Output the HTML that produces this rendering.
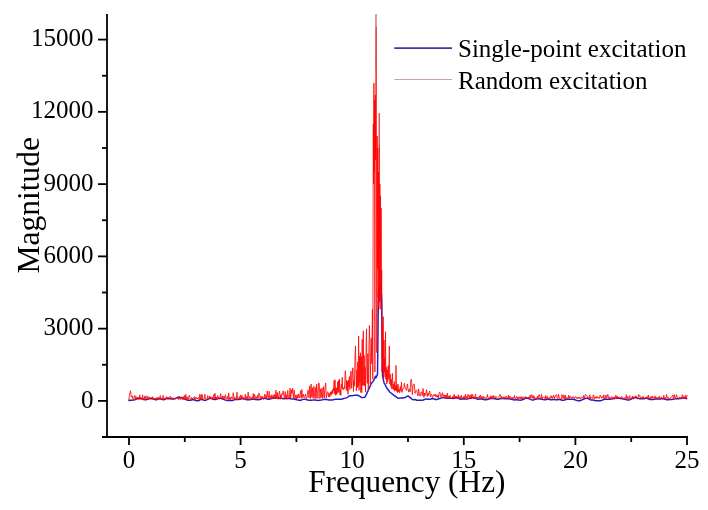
<!DOCTYPE html>
<html><head><meta charset="utf-8"><style>
html,body{margin:0;padding:0;background:#fff;}
svg{display:block;will-change:transform;}
text{font-family:"Liberation Serif",serif;fill:#000;}
</style></head><body>
<svg width="708" height="510" viewBox="0 0 708 510">
<rect width="708" height="510" fill="#fff"/>
<defs><clipPath id="c1"><rect x="360" y="0" width="40" height="70"/></clipPath><clipPath id="c2"><rect x="360" y="0" width="40" height="27"/></clipPath><clipPath id="c3"><rect x="378.9" y="100" width="1.2" height="45"/></clipPath></defs>
<path d="M128.60 400.78 L129.70 400.25 L130.80 400.30 L131.90 400.22 L133.00 400.09 L134.10 399.92 L135.20 399.60 L136.30 399.10 L137.40 398.58 L138.50 398.25 L139.60 398.13 L140.70 398.18 L141.80 398.47 L142.90 398.99 L144.00 399.53 L145.10 399.78 L146.20 399.66 L147.30 399.35 L148.40 398.98 L149.50 398.64 L150.60 398.40 L151.70 398.36 L152.80 398.63 L153.90 399.16 L155.00 399.64 L156.10 399.74 L157.20 399.45 L158.30 399.05 L159.40 398.79 L160.50 398.84 L161.60 399.20 L162.70 399.61 L163.80 399.70 L164.90 399.33 L166.00 398.78 L167.10 398.40 L168.20 398.30 L169.30 398.42 L170.40 398.64 L171.50 398.84 L172.60 398.93 L173.70 398.88 L174.80 398.64 L175.90 398.19 L177.00 397.62 L178.10 397.20 L179.20 397.11 L180.30 397.37 L181.40 397.80 L182.50 398.24 L183.60 398.66 L184.70 399.12 L185.80 399.57 L186.90 399.92 L188.00 400.15 L189.10 400.28 L190.20 400.27 L191.30 400.05 L192.40 399.75 L193.50 399.64 L194.60 399.93 L195.70 400.52 L196.80 400.78 L197.90 400.78 L199.00 400.51 L200.10 399.76 L201.20 399.39 L202.30 399.58 L203.40 400.06 L204.50 400.41 L205.60 400.36 L206.70 399.88 L207.80 399.17 L208.90 398.53 L210.00 398.25 L211.10 398.39 L212.20 398.84 L213.30 399.32 L214.40 399.58 L215.50 399.48 L216.60 399.08 L217.70 398.60 L218.80 398.25 L219.90 398.13 L221.00 398.24 L222.10 398.57 L223.20 399.09 L224.30 399.66 L225.40 400.12 L226.50 400.35 L227.60 400.38 L228.70 400.36 L229.80 400.42 L230.90 400.55 L232.00 400.54 L233.10 400.28 L234.20 399.88 L235.30 399.55 L236.40 399.41 L237.50 399.41 L238.60 399.40 L239.70 399.24 L240.80 398.92 L241.90 398.62 L243.00 398.57 L244.10 398.82 L245.20 399.24 L246.30 399.64 L247.40 399.86 L248.50 399.85 L249.60 399.65 L250.70 399.40 L251.80 399.23 L252.90 399.22 L254.00 399.31 L255.10 399.44 L256.20 399.58 L257.30 399.68 L258.40 399.71 L259.50 399.56 L260.60 399.19 L261.70 398.73 L262.80 398.38 L263.90 398.25 L265.00 398.36 L266.10 398.66 L267.20 399.03 L268.30 399.25 L269.40 399.19 L270.50 398.89 L271.60 398.52 L272.70 398.23 L273.80 398.03 L274.90 397.91 L276.00 397.86 L277.10 397.87 L278.20 397.88 L279.30 397.89 L280.40 397.99 L281.50 398.23 L282.60 398.52 L283.70 398.71 L284.80 398.73 L285.90 398.61 L287.00 398.47 L288.10 398.42 L289.20 398.51 L290.30 398.68 L291.40 398.84 L292.50 398.95 L293.60 399.06 L294.70 399.24 L295.80 399.52 L296.90 399.84 L298.00 400.12 L299.10 400.22 L300.20 400.42 L301.30 400.07 L302.40 399.65 L303.50 399.35 L304.60 399.30 L305.70 399.47 L306.80 399.73 L307.90 399.99 L309.00 400.19 L310.10 400.30 L311.20 400.28 L312.30 400.13 L313.40 399.95 L314.50 399.90 L315.60 400.05 L316.70 400.28 L317.80 400.40 L318.90 400.35 L320.00 400.23 L321.10 400.09 L322.20 399.88 L323.30 399.61 L324.40 399.40 L325.50 399.35 L326.60 399.46 L327.70 399.66 L328.80 399.90 L329.90 400.11 L331.00 400.11 L332.10 399.94 L333.20 399.70 L334.30 399.50 L335.40 399.37 L336.50 399.30 L337.60 399.26 L338.70 399.28 L339.80 399.34 L340.90 399.27 L342.00 399.04 L343.10 398.71 L344.20 398.39 L345.30 398.11 L346.40 397.86 L347.50 397.31 L348.60 396.48 L349.70 395.78 L350.80 395.71 L351.90 395.73 L353.00 395.60 L354.10 395.37 L355.20 395.16 L356.30 395.24 L357.40 395.26 L358.50 395.54 L359.60 396.18 L360.70 396.87 L361.80 397.62 L362.90 397.49 L364.00 397.29 L365.10 397.00 L366.20 394.71 L367.30 392.37 L368.40 389.99 L369.50 387.59 L370.00 386.47 L370.30 385.74 L370.60 385.00 L370.90 384.23 L371.20 383.67 L371.50 383.24 L371.80 382.81 L372.10 382.38 L372.40 381.99 L372.70 381.64 L373.00 381.31 L373.30 380.92 L373.60 380.47 L373.90 379.99 L374.20 379.43 L374.50 378.76 L374.80 377.98 L375.10 377.18 L375.40 376.53 L375.70 376.13 L376.00 377.78 L376.30 377.10 L376.60 376.43 L376.90 375.75 L377.20 375.08 L377.50 374.40 L377.80 349.11 L378.10 319.01 L378.40 295.64 L378.70 290.58 L379.00 288.50 L379.30 287.89 L379.60 287.29 L379.90 286.69 L380.20 286.89 L380.50 287.49 L380.80 288.09 L381.10 288.70 L381.40 293.23 L381.70 299.74 L382.00 330.45 L382.30 358.15 L382.60 376.07 L382.90 377.47 L383.20 378.87 L383.50 380.27 L383.80 381.66 L384.10 382.79 L384.40 383.36 L384.70 383.94 L385.00 384.52 L385.30 385.10 L385.60 385.68 L385.90 386.26 L386.20 386.83 L386.50 387.41 L386.80 387.99 L387.10 388.50 L387.40 388.89 L387.70 389.27 L388.00 389.66 L388.30 390.04 L388.60 390.43 L388.90 390.82 L389.20 391.20 L389.50 391.59 L389.80 391.97 L390.10 392.31 L390.40 392.54 L390.70 392.78 L391.00 393.01 L391.30 393.25 L391.60 393.48 L391.90 393.72 L392.50 394.19 L393.60 395.05 L394.70 395.87 L395.80 396.66 L396.90 397.46 L398.00 398.25 L399.10 398.18 L400.20 398.12 L401.30 398.05 L402.40 397.96 L403.50 397.80 L404.60 397.65 L405.70 397.20 L406.80 396.57 L407.90 395.95 L409.00 396.69 L410.10 397.57 L411.20 398.45 L412.30 399.33 L413.40 399.83 L414.50 399.67 L415.60 399.51 L416.70 400.28 L417.80 400.30 L418.90 400.22 L420.00 400.17 L421.10 400.20 L422.20 400.18 L423.30 399.94 L424.40 399.49 L425.50 399.09 L426.60 398.99 L427.70 399.15 L428.80 399.31 L429.90 399.23 L431.00 398.92 L432.10 398.66 L433.20 398.72 L434.30 399.08 L435.40 399.45 L436.50 399.54 L437.60 399.30 L438.70 398.88 L439.80 398.45 L440.90 398.10 L442.00 397.86 L443.10 397.75 L444.20 397.77 L445.30 397.91 L446.40 398.13 L447.50 398.28 L448.60 398.27 L449.70 398.17 L450.80 398.17 L451.90 398.33 L453.00 398.45 L454.10 398.28 L455.20 397.90 L456.30 397.67 L457.40 397.86 L458.50 398.37 L459.60 398.90 L460.70 399.17 L461.80 399.12 L462.90 398.92 L464.00 398.84 L465.10 398.99 L466.20 399.13 L467.30 398.98 L468.40 398.58 L469.50 398.18 L470.60 397.90 L471.70 397.66 L472.80 397.45 L473.90 397.51 L475.00 397.98 L476.10 398.65 L477.20 399.13 L478.30 399.24 L479.40 399.11 L480.50 398.96 L481.60 398.97 L482.70 399.19 L483.80 399.53 L484.90 399.79 L486.00 399.82 L487.10 399.58 L488.20 399.18 L489.30 398.77 L490.40 398.47 L491.50 398.37 L492.60 398.42 L493.70 398.57 L494.80 398.79 L495.90 399.05 L497.00 399.23 L498.10 399.25 L499.20 399.08 L500.30 398.82 L501.40 398.60 L502.50 398.53 L503.60 398.58 L504.70 398.67 L505.80 398.72 L506.90 398.74 L508.00 398.74 L509.10 398.77 L510.20 398.92 L511.30 399.20 L512.40 399.56 L513.50 399.82 L514.60 399.89 L515.70 399.81 L516.80 399.77 L517.90 399.89 L519.00 400.09 L520.10 400.16 L521.20 400.03 L522.30 399.73 L523.40 399.30 L524.50 398.79 L525.60 398.38 L526.70 398.23 L527.80 398.35 L528.90 398.67 L530.00 399.12 L531.10 399.62 L532.20 399.99 L533.30 400.00 L534.40 399.63 L535.50 399.17 L536.60 398.89 L537.70 398.83 L538.80 398.85 L539.90 398.89 L541.00 399.00 L542.10 399.21 L543.20 399.51 L544.30 399.74 L545.40 399.75 L546.50 399.55 L547.60 399.34 L548.70 399.35 L549.80 399.55 L550.90 399.72 L552.00 399.71 L553.10 399.61 L554.20 399.58 L555.30 399.64 L556.40 399.70 L557.50 399.66 L558.60 399.56 L559.70 399.58 L560.80 399.83 L561.90 400.17 L563.00 400.31 L564.10 400.15 L565.20 399.82 L566.30 399.53 L567.40 399.36 L568.50 399.25 L569.60 399.17 L570.70 399.16 L571.80 399.21 L572.90 399.32 L574.00 399.51 L575.10 399.81 L576.20 400.17 L577.30 400.47 L578.40 400.65 L579.50 400.67 L580.60 400.46 L581.70 400.00 L582.80 399.45 L583.90 398.95 L585.00 398.51 L586.10 398.21 L587.20 398.23 L588.30 398.63 L589.40 399.25 L590.50 399.77 L591.60 400.01 L592.70 400.07 L593.80 400.19 L594.90 400.50 L596.00 400.78 L597.10 400.78 L598.20 400.78 L599.30 400.78 L600.40 400.72 L601.50 400.37 L602.60 400.00 L603.70 399.63 L604.80 399.34 L605.90 399.16 L607.00 399.13 L608.10 399.19 L609.20 399.22 L610.30 399.18 L611.40 399.09 L612.50 398.88 L613.60 398.50 L614.70 398.11 L615.80 397.96 L616.90 398.10 L618.00 398.28 L619.10 398.34 L620.20 398.34 L621.30 398.44 L622.40 398.67 L623.50 398.96 L624.60 399.25 L625.70 399.55 L626.80 399.81 L627.90 399.96 L629.00 399.93 L630.10 399.62 L631.20 399.01 L632.30 398.26 L633.40 397.66 L634.50 397.38 L635.60 397.42 L636.70 397.71 L637.80 398.10 L638.90 398.44 L640.00 398.65 L641.10 398.78 L642.20 398.85 L643.30 398.78 L644.40 398.58 L645.50 398.36 L646.60 398.32 L647.70 398.58 L648.80 399.06 L649.90 399.46 L651.00 399.61 L652.10 399.54 L653.20 399.40 L654.30 399.24 L655.40 399.10 L656.50 399.02 L657.60 398.99 L658.70 398.98 L659.80 398.93 L660.90 398.83 L662.00 398.72 L663.10 398.71 L664.20 398.92 L665.30 399.29 L666.40 399.64 L667.50 399.79 L668.60 399.69 L669.70 399.50 L670.80 399.39 L671.90 399.38 L673.00 399.32 L674.10 399.12 L675.20 398.88 L676.30 398.74 L677.40 398.71 L678.50 398.68 L679.60 398.59 L680.70 398.43 L681.80 398.20 L682.90 397.96 L684.00 397.87 L685.10 398.04 L686.20 398.44 L687.30 398.86" fill="none" stroke="#2020c0" stroke-width="1.5" stroke-linejoin="round"/>
<g stroke="#ff0000"><path id="redp" d="M128.60 400.90 L129.50 394.88 L130.50 390.78 L131.30 397.29 L132.20 395.73 L132.95 399.56 L133.60 399.32 L134.17 396.29 L134.74 395.28 L135.32 399.31 L135.97 396.36 L136.47 399.66 L137.18 397.30 L137.96 399.47 L138.65 397.44 L139.21 399.79 L139.78 394.81 L140.48 399.38 L141.20 398.11 L142.04 399.94 L142.65 394.80 L143.16 399.73 L143.86 399.95 L144.49 396.43 L145.19 399.85 L145.78 395.73 L146.56 397.99 L147.07 399.44 L147.86 396.10 L148.57 399.33 L149.41 397.21 L150.22 399.37 L150.72 397.67 L151.57 397.65 L152.11 399.68 L152.67 396.64 L153.41 399.49 L154.18 398.03 L154.88 399.35 L155.72 397.83 L156.52 399.41 L157.28 397.07 L158.02 399.94 L158.84 397.33 L159.54 399.30 L160.27 395.49 L160.84 399.45 L161.43 397.98 L162.26 399.45 L163.10 395.31 L163.94 399.37 L164.54 397.94 L165.19 399.91 L166.00 397.15 L166.66 396.57 L167.44 399.25 L167.98 397.12 L168.62 399.33 L169.17 399.22 L169.75 397.10 L170.43 395.97 L171.21 399.25 L171.79 397.74 L172.32 399.35 L172.91 397.62 L173.68 399.45 L174.35 399.19 L175.11 399.47 L175.94 397.89 L176.53 397.76 L177.30 397.87 L177.84 399.12 L178.46 397.87 L178.98 399.70 L179.58 396.64 L180.20 399.10 L180.86 399.43 L181.70 396.97 L182.53 399.75 L183.32 396.41 L183.95 399.39 L184.56 395.51 L185.20 399.60 L185.72 394.28 L186.53 399.45 L187.06 396.60 L187.87 399.82 L188.71 396.92 L189.46 395.19 L190.14 399.15 L190.95 399.03 L191.45 397.45 L192.15 399.07 L192.92 397.76 L193.55 397.37 L194.29 399.24 L194.92 396.66 L195.75 399.20 L196.44 397.47 L197.21 399.21 L197.99 397.60 L198.50 397.50 L199.13 399.68 L199.74 394.36 L200.41 399.61 L201.19 394.32 L201.80 399.55 L202.34 394.72 L203.08 399.56 L203.62 399.60 L204.23 399.06 L204.87 394.18 L205.57 399.15 L206.26 399.73 L206.91 399.30 L207.74 395.62 L208.30 399.19 L208.99 399.20 L209.57 396.01 L210.41 398.96 L210.92 396.76 L211.55 399.01 L212.39 397.17 L213.06 399.44 L213.75 394.44 L214.46 399.14 L214.99 393.25 L215.65 399.06 L216.36 396.99 L217.04 399.71 L217.59 395.55 L218.39 397.39 L219.08 399.39 L219.63 398.99 L220.26 396.01 L220.76 393.67 L221.37 398.80 L222.02 399.69 L222.64 395.82 L223.38 399.25 L224.00 396.00 L224.72 399.08 L225.45 394.62 L226.22 398.75 L226.91 398.80 L227.46 396.38 L228.13 399.56 L228.74 392.89 L229.38 399.57 L230.07 397.30 L230.64 399.55 L231.36 396.86 L232.03 398.74 L232.60 399.14 L233.23 392.69 L234.06 399.04 L234.84 396.91 L235.62 399.64 L236.29 399.43 L236.97 392.23 L237.71 399.54 L238.52 399.42 L239.28 396.56 L239.88 398.79 L240.62 395.06 L241.29 399.16 L241.90 395.31 L242.44 399.36 L243.15 397.09 L243.90 399.62 L244.70 398.77 L245.27 394.25 L245.89 399.38 L246.71 396.37 L247.39 399.21 L248.17 392.04 L248.95 399.40 L249.55 396.63 L250.38 396.90 L251.23 399.41 L251.97 396.98 L252.72 398.91 L253.29 393.47 L253.96 399.53 L254.64 394.41 L255.32 398.69 L256.08 396.58 L256.83 398.95 L257.55 395.37 L258.10 398.76 L258.87 392.95 L259.55 395.20 L260.25 398.99 L261.02 396.14 L261.84 399.04 L262.59 396.38 L263.17 399.08 L263.98 399.32 L264.75 393.91 L265.39 398.43 L266.17 395.07 L266.69 398.99 L267.24 391.02 L267.82 396.43 L268.47 398.37 L269.22 391.22 L269.84 399.18 L270.42 395.80 L271.20 398.37 L271.83 394.65 L272.60 398.51 L273.43 395.25 L274.03 399.08 L274.73 394.29 L275.36 398.55 L275.97 390.17 L276.72 398.76 L277.27 392.46 L278.06 399.34 L278.80 394.30 L279.61 391.04 L280.19 399.37 L280.72 394.77 L281.24 399.01 L281.87 393.62 L282.49 394.58 L283.13 390.87 L283.71 395.21 L284.46 399.03 L285.23 391.55 L285.79 398.71 L286.41 394.81 L287.09 399.28 L287.75 390.38 L288.59 398.64 L289.39 398.66 L290.00 388.21 L290.66 398.11 L291.49 389.79 L292.02 393.46 L292.67 388.08 L293.44 398.21 L294.27 390.26 L295.00 399.11 L295.81 395.00 L296.43 398.91 L297.13 394.81 L297.68 398.40 L298.36 394.08 L299.17 398.12 L299.97 394.73 L300.61 390.65 L301.13 398.49 L301.84 389.43 L302.63 397.64 L303.44 394.12 L303.95 397.84 L304.74 397.64 L305.42 393.98 L306.25 398.46 L306.96 398.24 L307.68 390.71 L308.38 390.15 L308.95 397.74 L309.74 386.07 L310.35 398.51 L311.10 384.03 L311.85 397.34 L312.51 387.76 L313.17 398.42 L313.89 386.20 L314.41 393.79 L315.05 398.49 L315.60 387.39 L316.10 398.39 L316.69 384.13 L317.45 393.35 L317.99 398.61 L318.69 382.77 L319.21 383.70 L319.96 398.66 L320.55 388.95 L321.31 397.49 L322.03 388.05 L322.71 398.50 L323.50 386.61 L324.26 398.03 L324.90 388.95 L325.67 382.97 L326.30 398.01 L327.10 392.34 L327.80 391.76 L328.45 396.83 L329.07 392.92 L329.77 397.07 L330.50 391.90 L330.95 395.39 L331.40 391.55 L331.85 393.88 L332.30 389.83 L332.75 393.53 L333.20 388.53 L333.65 390.82 L334.10 380.45 L334.55 393.58 L335.00 379.76 L335.45 395.27 L335.90 387.23 L336.35 394.75 L336.80 388.22 L337.25 393.37 L337.70 381.68 L338.15 391.80 L338.60 380.31 L339.05 392.55 L339.50 378.99 L339.95 394.62 L340.40 389.69 L340.85 395.50 L341.30 384.38 L341.75 388.45 L342.20 377.33 L342.65 389.39 L343.10 388.85 L343.55 389.60 L344.00 386.99 L344.45 388.43 L344.90 380.18 L345.30 370.79 L345.75 377.20 L346.20 389.68 L346.65 380.26 L347.10 391.15 L347.55 381.68 L348.00 394.33 L348.45 380.15 L348.90 386.98 L349.35 376.62 L349.80 389.60 L350.25 386.19 L350.70 371.76 L351.15 371.00 L351.60 388.31 L352.05 382.69 L352.60 367.90 L353.05 368.04 L353.50 391.60 L353.95 380.52 L354.40 385.70 L354.85 361.45 L355.50 345.98 L355.95 371.90 L356.40 390.83 L356.85 369.90 L357.30 387.62 L357.75 361.83 L358.20 386.56 L358.60 336.11 L359.05 390.30 L359.50 356.34 L359.95 382.65 L360.40 352.73 L360.85 392.55 L361.30 356.70 L361.75 392.67 L362.20 339.44 L362.65 385.34 L363.30 330.81 L363.75 385.50 L364.20 355.44 L364.65 385.77 L365.10 367.35 L365.55 392.12 L366.00 352.82 L366.50 328.88 L366.95 371.08 L367.40 383.35 L367.85 353.63 L368.30 389.90 L368.75 358.18 L369.40 325.51 L369.85 344.49 L370.30 384.27 L370.75 352.60 L371.30 338.27 L371.75 363.67 L372.40 309.37 L372.80 379.22 L373.30 123.90 L373.60 184.12 L373.90 83.20 L374.20 172.08 L374.50 99.82 L374.90 372.00 L375.30 95.00 L375.60 160.03 L375.90 72.12 L376.20 14.50 L376.50 184.12 L376.80 352.73 L377.20 135.95 L377.50 268.42 L377.80 147.99 L378.10 297.33 L378.40 172.08 L378.70 306.96 L379.00 184.12 L379.30 113.06 L379.60 302.14 L379.90 184.12 L380.20 309.37 L380.50 196.16 L380.80 299.74 L381.10 208.21 L381.40 294.92 L381.70 270.11 L382.00 372.00 L382.40 323.82 L382.80 364.77 L383.20 316.60 L383.60 379.22 L384.00 339.96 L384.40 372.00 L384.80 357.54 L385.10 376.81 L385.50 331.77 L385.90 379.22 L386.30 367.18 L386.80 384.04 L387.20 369.59 L387.70 381.63 L388.20 365.49 L388.70 379.22 L389.30 345.98 L389.80 384.04 L390.30 374.40 L390.80 386.45 L391.30 379.22 L391.80 388.86 L392.40 373.30 L392.90 388.86 L393.30 384.04 L393.80 390.06 L394.30 381.63 L394.80 391.27 L395.20 386.45 L395.60 390.06 L396.00 365.49 L396.50 391.27 L397.00 385.24 L397.50 392.47 L398.00 384.04 L398.50 391.75 L399.00 388.86 L399.60 392.95 L400.30 386.45 L400.90 391.27 L401.50 381.99 L402.00 392.47 L402.50 388.86 L403.20 388.81 L403.87 388.51 L404.39 383.19 L405.21 388.25 L406.03 388.97 L406.56 390.53 L407.37 383.87 L407.91 388.10 L408.67 392.14 L409.42 388.92 L410.21 391.88 L410.81 379.61 L411.60 379.61 L412.36 394.72 L413.14 384.88 L413.82 384.28 L414.37 384.28 L415.02 393.59 L415.67 391.26 L416.23 390.14 L416.75 390.09 L417.41 393.84 L417.97 395.96 L418.60 388.86 L419.42 394.98 L420.18 396.21 L420.80 392.28 L421.54 391.96 L422.33 395.73 L423.06 388.46 L423.87 397.36 L424.41 393.03 L424.97 395.77 L425.80 393.04 L426.63 389.70 L427.21 396.46 L428.01 393.09 L428.53 395.58 L429.17 392.13 L429.79 391.00 L430.43 396.86 L431.03 394.31 L431.75 394.48 L432.28 397.90 L432.93 396.49 L433.77 394.51 L434.43 396.00 L435.22 394.09 L435.90 396.98 L436.61 394.89 L437.43 397.56 L438.03 394.83 L438.55 397.95 L439.25 392.32 L439.99 392.42 L440.78 396.99 L441.52 396.79 L442.31 392.71 L443.02 396.43 L443.76 394.51 L444.31 397.93 L445.04 394.99 L445.67 397.65 L446.23 395.03 L446.74 398.48 L447.35 393.06 L447.86 398.29 L448.68 395.98 L449.21 398.71 L449.98 395.28 L450.77 398.60 L451.61 398.52 L452.20 398.24 L452.83 396.06 L453.34 397.94 L454.18 394.27 L454.88 398.75 L455.62 396.14 L456.25 398.65 L456.93 396.09 L457.67 398.64 L458.43 394.78 L459.07 398.19 L459.87 396.29 L460.69 398.73 L461.33 395.15 L462.08 398.63 L462.60 397.09 L463.29 398.41 L464.02 396.17 L464.57 398.87 L465.32 394.37 L465.85 398.71 L466.44 396.04 L467.14 398.44 L467.90 394.25 L468.67 395.83 L469.36 398.50 L469.91 395.01 L470.68 398.67 L471.19 394.44 L471.73 399.09 L472.30 394.15 L472.97 395.65 L473.66 399.09 L474.19 397.09 L474.73 398.34 L475.46 393.96 L476.07 398.06 L476.72 397.05 L477.29 398.28 L477.80 397.10 L478.51 398.79 L479.33 395.90 L479.89 398.15 L480.40 394.92 L481.20 398.89 L481.96 396.32 L482.77 398.88 L483.43 396.38 L484.08 398.64 L484.65 396.99 L485.46 398.17 L486.23 398.93 L486.82 397.15 L487.45 394.37 L487.98 398.35 L488.73 398.61 L489.57 397.06 L490.09 399.19 L490.93 395.84 L491.52 399.06 L492.31 395.82 L493.07 398.43 L493.76 395.51 L494.42 397.12 L495.14 398.11 L495.94 396.13 L496.54 397.04 L497.13 398.57 L497.89 399.33 L498.44 398.19 L499.08 396.97 L499.81 394.43 L500.44 394.83 L501.28 398.68 L501.78 396.25 L502.48 398.99 L503.11 398.69 L503.69 396.83 L504.24 398.63 L505.02 396.63 L505.83 398.81 L506.35 396.09 L507.18 397.17 L507.98 398.56 L508.49 395.04 L509.06 398.98 L509.83 395.97 L510.53 398.30 L511.26 398.72 L511.84 397.18 L512.35 398.75 L512.91 397.19 L513.76 398.79 L514.48 395.42 L515.10 398.89 L515.89 398.22 L516.57 396.48 L517.38 399.17 L517.95 396.84 L518.76 399.26 L519.53 396.87 L520.17 398.71 L520.78 396.75 L521.41 399.29 L521.91 396.66 L522.66 398.81 L523.27 396.96 L523.78 396.79 L524.48 397.12 L525.18 398.61 L525.77 396.47 L526.48 398.10 L527.16 397.20 L527.89 398.67 L528.49 396.91 L529.28 398.77 L530.10 395.00 L530.93 398.36 L531.76 394.60 L532.44 398.23 L533.24 395.61 L533.93 399.18 L534.49 396.49 L535.14 398.77 L535.92 398.74 L536.57 399.32 L537.40 396.11 L537.91 399.21 L538.63 395.13 L539.42 394.59 L540.08 398.21 L540.86 399.16 L541.58 394.48 L542.14 399.20 L542.98 396.99 L543.69 397.14 L544.47 397.06 L545.14 398.89 L545.79 395.38 L546.62 399.19 L547.28 396.48 L547.81 399.29 L548.54 398.59 L549.34 397.21 L550.03 398.95 L550.56 398.27 L551.08 395.59 L551.61 398.13 L552.19 396.49 L552.83 398.54 L553.61 395.09 L554.15 396.31 L554.73 398.55 L555.24 396.20 L556.06 394.84 L556.65 394.41 L557.21 398.48 L557.81 398.61 L558.60 394.40 L559.44 399.37 L560.03 399.23 L560.69 398.49 L561.44 399.33 L561.95 394.48 L562.54 397.22 L563.18 398.77 L563.94 394.78 L564.69 399.06 L565.30 395.19 L565.83 399.29 L566.58 397.21 L567.36 398.21 L568.07 398.78 L568.57 395.16 L569.29 398.62 L569.85 395.86 L570.60 397.02 L571.41 398.16 L572.15 396.75 L572.78 398.24 L573.61 396.72 L574.39 398.59 L575.13 396.93 L575.96 396.61 L576.51 398.37 L577.10 397.23 L577.85 398.77 L578.45 397.01 L579.09 398.45 L579.74 397.17 L580.49 399.15 L581.05 397.26 L581.64 397.19 L582.25 397.30 L582.88 398.28 L583.50 395.51 L584.17 398.62 L584.93 395.56 L585.47 394.40 L586.18 395.99 L586.79 395.60 L587.48 396.10 L588.05 398.85 L588.74 397.27 L589.31 398.36 L589.84 394.79 L590.49 399.14 L591.12 397.14 L591.83 398.23 L592.61 398.56 L593.13 394.97 L593.68 394.84 L594.25 399.09 L595.00 396.77 L595.62 398.43 L596.38 396.42 L596.98 398.40 L597.65 396.62 L598.29 398.25 L598.81 397.26 L599.58 398.46 L600.13 395.01 L600.90 396.59 L601.45 398.19 L602.07 396.46 L602.60 396.63 L603.31 398.51 L603.84 394.82 L604.44 398.97 L605.16 398.63 L605.98 394.91 L606.50 398.36 L607.14 397.27 L607.84 394.32 L608.52 397.21 L609.06 398.78 L609.65 396.77 L610.35 399.18 L611.11 397.26 L611.85 396.76 L612.46 398.47 L613.02 396.97 L613.61 398.83 L614.45 399.38 L615.01 396.77 L615.85 395.20 L616.48 399.03 L617.14 395.90 L617.68 398.63 L618.28 397.02 L619.13 398.79 L619.74 397.22 L620.40 399.26 L620.93 397.34 L621.66 396.32 L622.31 396.67 L622.92 398.30 L623.48 399.25 L624.32 398.40 L625.13 397.14 L625.80 398.53 L626.40 394.61 L627.00 399.39 L627.83 396.40 L628.42 399.11 L629.14 398.74 L629.73 395.54 L630.42 399.31 L631.06 398.41 L631.90 397.38 L632.66 395.97 L633.48 399.26 L634.16 397.02 L634.90 398.45 L635.47 395.93 L636.13 395.81 L636.80 398.61 L637.35 399.12 L638.03 397.38 L638.69 394.45 L639.20 396.35 L639.88 395.59 L640.47 399.14 L641.14 397.22 L641.76 397.39 L642.27 398.23 L643.10 396.23 L643.93 398.78 L644.74 399.03 L645.53 397.30 L646.36 398.76 L647.08 396.60 L647.77 398.85 L648.30 395.03 L648.97 398.82 L649.71 397.37 L650.52 399.36 L651.16 396.32 L651.98 398.50 L652.51 396.15 L653.19 398.27 L654.02 397.19 L654.56 398.37 L655.06 395.87 L655.81 398.54 L656.66 397.19 L657.18 399.03 L657.72 399.34 L658.33 396.77 L658.89 398.39 L659.70 396.27 L660.27 399.12 L661.01 398.95 L661.66 396.95 L662.45 398.68 L663.18 398.22 L663.78 395.25 L664.55 399.03 L665.13 397.43 L665.89 399.33 L666.54 394.44 L667.29 396.83 L667.95 398.67 L668.56 397.37 L669.11 399.41 L669.67 399.15 L670.41 397.36 L670.94 397.30 L671.56 397.13 L672.22 395.84 L672.85 395.07 L673.38 399.43 L674.21 394.62 L675.02 398.70 L675.56 398.25 L676.38 394.69 L677.09 397.15 L677.86 396.92 L678.48 398.84 L679.29 398.39 L679.96 396.94 L680.68 398.46 L681.39 398.87 L682.10 395.04 L682.74 394.79 L683.25 398.63 L683.98 396.33 L684.76 398.75 L685.45 395.40 L686.22 398.76 L687.01 395.30 L687.70 396.08" fill="none" stroke-width="0.8" stroke-linejoin="miter" stroke-miterlimit="2"/></g>
<use href="#redp" clip-path="url(#c1)" stroke="#d25c5c"/>
<use href="#redp" clip-path="url(#c2)" stroke="#eeb0b0"/>
<use href="#redp" clip-path="url(#c3)" stroke="#c86464"/>
<g stroke="#000" stroke-width="1.8" fill="none">
<line x1="107" y1="14" x2="107" y2="438"/>
<line x1="102" y1="437" x2="688" y2="437"/>
<line x1="98" y1="400.90" x2="107" y2="400.90"/>
<line x1="102" y1="364.77" x2="107" y2="364.77"/>
<line x1="98" y1="328.64" x2="107" y2="328.64"/>
<line x1="102" y1="292.51" x2="107" y2="292.51"/>
<line x1="98" y1="256.38" x2="107" y2="256.38"/>
<line x1="102" y1="220.25" x2="107" y2="220.25"/>
<line x1="98" y1="184.12" x2="107" y2="184.12"/>
<line x1="102" y1="147.99" x2="107" y2="147.99"/>
<line x1="98" y1="111.86" x2="107" y2="111.86"/>
<line x1="102" y1="75.73" x2="107" y2="75.73"/>
<line x1="98" y1="39.60" x2="107" y2="39.60"/>
<line x1="129.00" y1="437" x2="129.00" y2="445"/>
<line x1="184.80" y1="437" x2="184.80" y2="442"/>
<line x1="240.60" y1="437" x2="240.60" y2="445"/>
<line x1="296.40" y1="437" x2="296.40" y2="442"/>
<line x1="352.20" y1="437" x2="352.20" y2="445"/>
<line x1="408.00" y1="437" x2="408.00" y2="442"/>
<line x1="463.80" y1="437" x2="463.80" y2="445"/>
<line x1="519.60" y1="437" x2="519.60" y2="442"/>
<line x1="575.40" y1="437" x2="575.40" y2="445"/>
<line x1="631.20" y1="437" x2="631.20" y2="442"/>
<line x1="687.00" y1="437" x2="687.00" y2="445"/>
</g>
<g font-size="25"><text x="93.5" y="407.50" text-anchor="end">0</text><text x="93.5" y="335.24" text-anchor="end">3000</text><text x="93.5" y="262.98" text-anchor="end">6000</text><text x="93.5" y="190.72" text-anchor="end">9000</text><text x="93.5" y="118.46" text-anchor="end">12000</text><text x="93.5" y="46.20" text-anchor="end">15000</text><text x="129.00" y="468" text-anchor="middle">0</text><text x="240.60" y="468" text-anchor="middle">5</text><text x="352.20" y="468" text-anchor="middle">10</text><text x="463.80" y="468" text-anchor="middle">15</text><text x="575.40" y="468" text-anchor="middle">20</text><text x="687.00" y="468" text-anchor="middle">25</text></g>
<text x="308.2" y="491.8" font-size="31.3">Frequency (Hz)</text>
<text transform="translate(38.9,205.2) rotate(-90)" text-anchor="middle" font-size="31.5">Magnitude</text>
<line x1="394.3" y1="48.1" x2="452" y2="48.1" stroke="#3c3a9c" stroke-width="1.6"/>
<line x1="394.3" y1="79.5" x2="452" y2="79.5" stroke="#d49ca0" stroke-width="1"/>
<text x="458" y="56.6" font-size="25">Single-point excitation</text>
<text x="458" y="88.6" font-size="25">Random excitation</text>
</svg>
</body></html>
